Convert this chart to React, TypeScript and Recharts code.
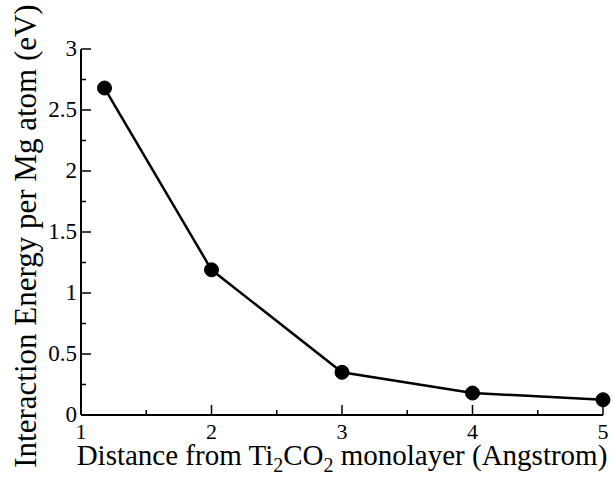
import { LineChart, Line, XAxis, YAxis, Label } from "recharts"

const distances = [1.18, 2, 3, 4, 5]
const energies = [2.68, 1.19, 0.35, 0.18, 0.125]

const xTicks = [1, 1.5, 2, 2.5, 3, 3.5, 4, 4.5, 5]
const xMajor = [1, 2, 3, 4, 5]
const yTicks = [0, 0.25, 0.5, 0.75, 1, 1.25, 1.5, 1.75, 2, 2.25, 2.5, 2.75, 3]
const yMajor = [0, 0.5, 1, 1.5, 2, 2.5, 3]

const data = distances.map((d, i) => ({ d, e: energies[i] }))

const FONT = '"Liberation Serif", "Times New Roman", "DejaVu Serif", serif'
const MAJOR = 10
const MINOR = 5
const GAP = 4

// tick renderers: draw the inward tick line plus the label for majors
function BottomTick(props: any) {
  const { x, y, payload } = props
  const major = xMajor.includes(payload.value)
  const ay = y - GAP
  return (
    <g>
      <line x1={x} x2={x} y1={ay} y2={ay - (major ? MAJOR : MINOR)} stroke="#000" strokeWidth={1.5} />
      {major && (
        <text x={x} y={ay + 24} textAnchor="middle" fontFamily={FONT} fontSize={22} fill="#000">
          {payload.value}
        </text>
      )}
    </g>
  )
}

function TopTick(props: any) {
  const { x, y, payload } = props
  const major = xMajor.includes(payload.value)
  const ay = y + GAP
  return <line x1={x} x2={x} y1={ay} y2={ay + (major ? MAJOR : MINOR)} stroke="#000" strokeWidth={1.5} />
}

function LeftTick(props: any) {
  const { x, y, payload } = props
  const major = yMajor.includes(payload.value)
  const ax = x + GAP
  return (
    <g>
      <line x1={ax} x2={ax + (major ? MAJOR : MINOR)} y1={y} y2={y} stroke="#000" strokeWidth={1.5} />
      {major && (
        <text x={ax - 4} y={y + 7} textAnchor="end" fontFamily={FONT} fontSize={23} fill="#000">
          {payload.value}
        </text>
      )}
    </g>
  )
}

function RightTick(props: any) {
  const { x, y, payload } = props
  const major = yMajor.includes(payload.value)
  const ax = x - GAP
  return <line x1={ax} x2={ax - (major ? MAJOR : MINOR)} y1={y} y2={y} stroke="#000" strokeWidth={1.5} />
}

function XTitle(props: any) {
  const { viewBox } = props
  const cx = viewBox.x + viewBox.width / 2
  return (
    <text x={cx} y={viewBox.y + 50} textAnchor="middle" fontFamily={FONT} fontSize={29} fill="#000">
      Distance from Ti
      <tspan dy={7} fontSize={20}>2</tspan>
      <tspan dy={-7}>CO</tspan>
      <tspan dy={7} fontSize={20}>2</tspan>
      <tspan dy={-7}> monolayer (Angstrom)</tspan>
    </text>
  )
}

function YTitle(props: any) {
  const { viewBox } = props
  const cy = viewBox.y + viewBox.height / 2 + 4
  const x = 36
  return (
    <text
      x={x}
      y={cy}
      transform={`rotate(-90 ${x} ${cy})`}
      textAnchor="middle"
      fontFamily={FONT}
      fontSize={31}
      fill="#000"
    >
      Interaction Energy per Mg atom (eV)
    </text>
  )
}

export default function App() {
  return (
    <div style={{ position: "absolute", left: 0, top: 0, background: "#fff", fontFamily: FONT }}>
      <LineChart width={613} height={483} data={data} margin={{ top: 49, right: 10, bottom: 0, left: 0 }}>
        <XAxis
          dataKey="d"
          type="number"
          domain={[1, 5]}
          ticks={xTicks}
          interval={0}
          height={68}
          tickSize={0}
          tickMargin={GAP}
          tickLine={false}
          axisLine={{ stroke: "#000", strokeWidth: 2 }}
          tick={<BottomTick />}
        >
          <Label content={<XTitle />} />
        </XAxis>
        <XAxis
          xAxisId="top"
          orientation="top"
          dataKey="d"
          type="number"
          domain={[1, 5]}
          ticks={xTicks}
          interval={0}
          height={0}
          tickSize={0}
          tickMargin={GAP}
          tickLine={false}
          axisLine={{ stroke: "#000", strokeWidth: 2 }}
          tick={<TopTick />}
        />
        <YAxis
          type="number"
          domain={[0, 3]}
          ticks={yTicks}
          interval={0}
          width={81}
          tickSize={0}
          tickMargin={GAP}
          tickLine={false}
          axisLine={{ stroke: "#000", strokeWidth: 2 }}
          tick={<LeftTick />}
        >
          <Label content={<YTitle />} />
        </YAxis>
        <YAxis
          yAxisId="right"
          orientation="right"
          type="number"
          domain={[0, 3]}
          ticks={yTicks}
          interval={0}
          width={0}
          tickSize={0}
          tickMargin={GAP}
          tickLine={false}
          axisLine={{ stroke: "#000", strokeWidth: 2 }}
          tick={<RightTick />}
        />
        <Line
          dataKey="e"
          stroke="#000"
          strokeWidth={2.5}
          dot={{ r: 7, fill: "#000", stroke: "#000", strokeWidth: 1 }}
          isAnimationActive={false}
        />
        <Line
          xAxisId="top"
          yAxisId="right"
          dataKey="e"
          stroke="none"
          dot={false}
          activeDot={false}
          isAnimationActive={false}
        />
      </LineChart>
    </div>
  )
}
